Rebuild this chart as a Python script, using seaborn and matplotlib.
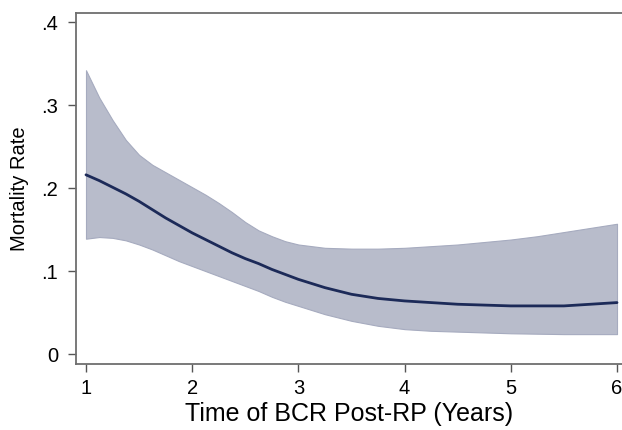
import numpy as np
import pandas as pd
import matplotlib
matplotlib.use("Agg")
import matplotlib.pyplot as plt
import seaborn as sns

# Values
years = [1.0, 1.125, 1.25, 1.375, 1.5, 1.625, 1.75, 1.875, 2.0, 2.125, 2.25, 2.375, 2.5,
         2.625, 2.75, 2.875, 3.0, 3.25, 3.5, 3.75, 4.0, 4.25, 4.5, 4.75, 5.0, 5.25, 5.5, 5.75, 6.0]
rate = [0.216, 0.209, 0.201, 0.193, 0.184, 0.174, 0.164, 0.155, 0.146, 0.138, 0.130, 0.122, 0.115,
        0.109, 0.102, 0.096, 0.090, 0.080, 0.072, 0.067, 0.064, 0.062, 0.060, 0.059, 0.058, 0.058, 0.058, 0.060, 0.062]
lower = [0.139, 0.141, 0.140, 0.137, 0.132, 0.126, 0.119, 0.112, 0.106, 0.100, 0.094, 0.088, 0.082,
         0.076, 0.069, 0.063, 0.058, 0.048, 0.040, 0.034, 0.030, 0.028, 0.027, 0.026, 0.025, 0.0245, 0.024, 0.024, 0.024]
upper = [0.342, 0.309, 0.282, 0.258, 0.240, 0.228, 0.219, 0.210, 0.201, 0.192, 0.182, 0.171, 0.159,
         0.149, 0.142, 0.136, 0.132, 0.128, 0.127, 0.127, 0.128, 0.130, 0.132, 0.135, 0.138, 0.142, 0.147, 0.152, 0.157]

x_ticks = [1, 2, 3, 4, 5, 6]
y_ticks = [0, 0.1, 0.2, 0.3, 0.4]
y_tick_labels = ["0", ".1", ".2", ".3", ".4"]

df = pd.DataFrame({"years": years, "rate": rate, "lower": lower, "upper": upper})

sns.set_style("ticks")
plt.rcParams["font.family"] = ["Liberation Sans", "DejaVu Sans"]

fig = plt.figure(figsize=(6.22, 4.30), dpi=100)
ax = fig.add_axes([0.1222, 0.1535, 0.8778, 0.8163])

ax.fill_between(df["years"], df["lower"], df["upper"], color="#b8bccb",
                edgecolor="#a6abbf", linewidth=0.8, zorder=1)
sns.lineplot(data=df, x="years", y="rate", ax=ax, color="#1c2a58", linewidth=2.0, zorder=2)

ax.set_xlim(0.906, 6.047)
ax.set_ylim(-0.012, 0.411)
ax.set_xticks(x_ticks)
ax.set_yticks(y_ticks)
ax.set_yticklabels(y_tick_labels)
ax.tick_params(axis="both", labelsize=14.5, labelcolor="black", length=6, width=1.0,
               color="#555555", pad=5)
ax.tick_params(axis="y", pad=7)

ax.set_xlabel("Time of BCR Post-RP (Years)", fontsize=18, color="black", labelpad=3)
ax.set_ylabel("Mortality Rate", fontsize=14.5, color="black", labelpad=9)

for side in ["left", "bottom", "top"]:
    ax.spines[side].set_visible(True)
    ax.spines[side].set_color("#6e6e6e")
    ax.spines[side].set_linewidth(1.3)
ax.spines["right"].set_visible(False)

fig.savefig("out.png", dpi=100)
